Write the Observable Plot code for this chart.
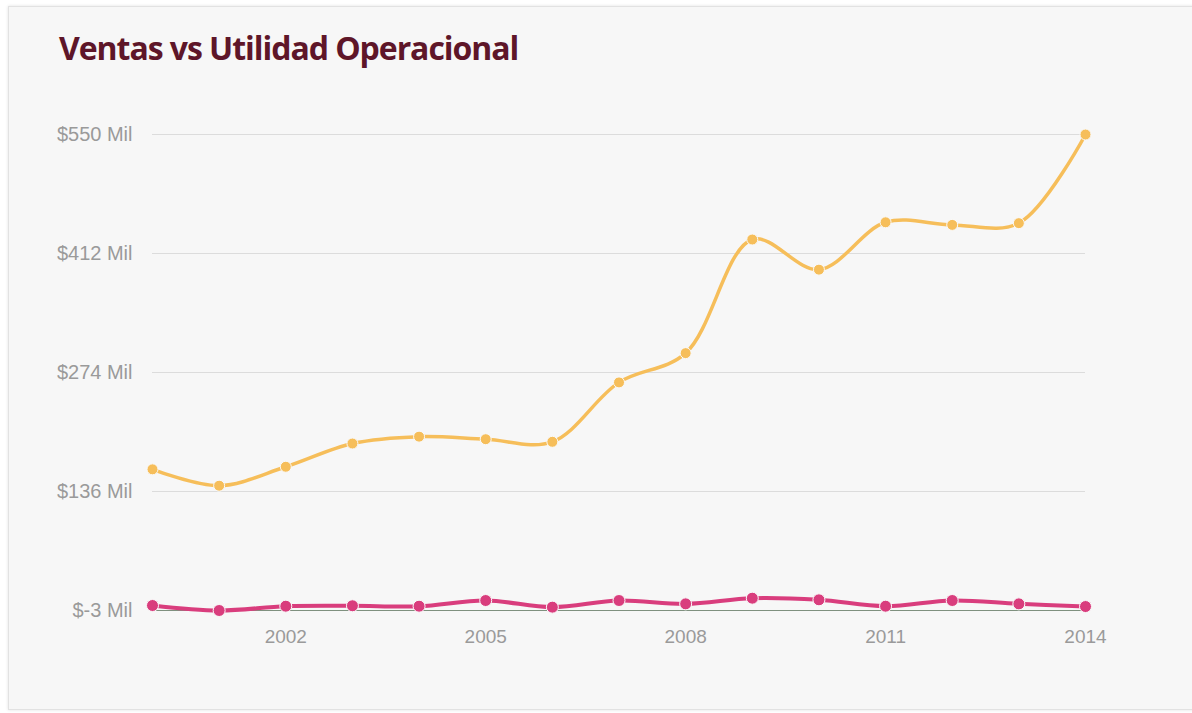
<!DOCTYPE html>
<html>
<head>
<meta charset="utf-8">
<script src="https://cdn.jsdelivr.net/npm/d3@7"></script>
<script src="https://cdn.jsdelivr.net/npm/@observablehq/plot@0.6"></script>
<style>
  html, body { margin: 0; padding: 0; background: #ffffff; width: 1192px; height: 713px; overflow: hidden; }
  #card { position: absolute; left: 8px; top: 6px; width: 1200px; height: 702px; background: #f7f7f7;
          border: 1px solid #e2e2e2; box-shadow: 0 0 3px rgba(0,0,0,0.12); }
  #title { position: absolute; left: 59px; top: 32px; font-family: "Open Sans", sans-serif; font-weight: 700;
           font-size: 32px; line-height: 32px; color: #5e1629; letter-spacing: -1.05px; white-space: nowrap; }
  #chart { position: absolute; left: 0; top: 0; }
</style>
</head>
<body>
<div id="card"></div>
<div id="title">Ventas vs Utilidad Operacional</div>
<div id="chart"></div>
<script>
const years = [2000, 2001, 2002, 2003, 2004, 2005, 2006, 2007, 2008, 2009, 2010, 2011, 2012, 2013, 2014];
const ventas = [161, 142, 164, 191, 199, 196, 193, 262, 296, 428, 393, 448, 445, 447, 550];
const utilidad = [2.8, -3, 2, 2.5, 2, 8.6, 0.9, 8.6, 4.7, 11.3, 9.4, 2, 8.6, 4.7, 1.6];
const yTickValues = [-3, 135.25, 273.5, 411.75, 550];
const yTickLabels = ["$-3 Mil", "$136 Mil", "$274 Mil", "$412 Mil", "$550 Mil"];
const xTickValues = [2002, 2005, 2008, 2011, 2014];
const seriesNames = ["Ventas", "Utilidad Operacional"];

const rows = years.map((y, i) => ({year: y, value: ventas[i], serie: seriesNames[0]}));
const rowsU = years.map((y, i) => ({year: y, value: utilidad[i], serie: seriesNames[1]}));

const plot = Plot.plot({
  width: 1192,
  height: 713,
  marginTop: 134,
  marginBottom: 103,
  marginLeft: 152,
  marginRight: 107,
  style: { background: "transparent", fontFamily: "'Liberation Sans', Arial, sans-serif", fontSize: "19px", color: "#9a9a9a" },
  x: { domain: [2000, 2014], label: null },
  y: { domain: [-3, 550], label: null },
  marks: [
    Plot.gridY(yTickValues.slice(1), { stroke: "#dcdcdc", strokeOpacity: 1, strokeWidth: 1 }),
    Plot.ruleY([-3], { stroke: "#7f917f", strokeWidth: 1 }),
    Plot.axisX({ ticks: xTickValues, tickFormat: d => String(d), tickSize: 0, tickPadding: 19, fill: "#9a9a9a", fontSize: 19, label: null }),
    Plot.axisY({ ticks: yTickValues, tickFormat: d => yTickLabels[yTickValues.indexOf(d)], tickSize: 0, tickPadding: 20, fill: "#9a9a9a", fontSize: 20, label: null }),
    Plot.line(rows, { x: "year", y: "value", stroke: "#f6be5a", strokeWidth: 3.5, curve: "catmull-rom" }),
    Plot.dot(rows, { x: "year", y: "value", r: 5.5, fill: "#f6be5a", stroke: "#fafafa", strokeWidth: 1 }),
    Plot.line(rowsU, { x: "year", y: "value", stroke: "#d93d7d", strokeWidth: 4, curve: "catmull-rom" }),
    Plot.dot(rowsU, { x: "year", y: "value", r: 6, fill: "#d93d7d", stroke: "#fafafa", strokeWidth: 1 })
  ]
});
document.getElementById("chart").appendChild(plot);
</script>
</body>
</html>
